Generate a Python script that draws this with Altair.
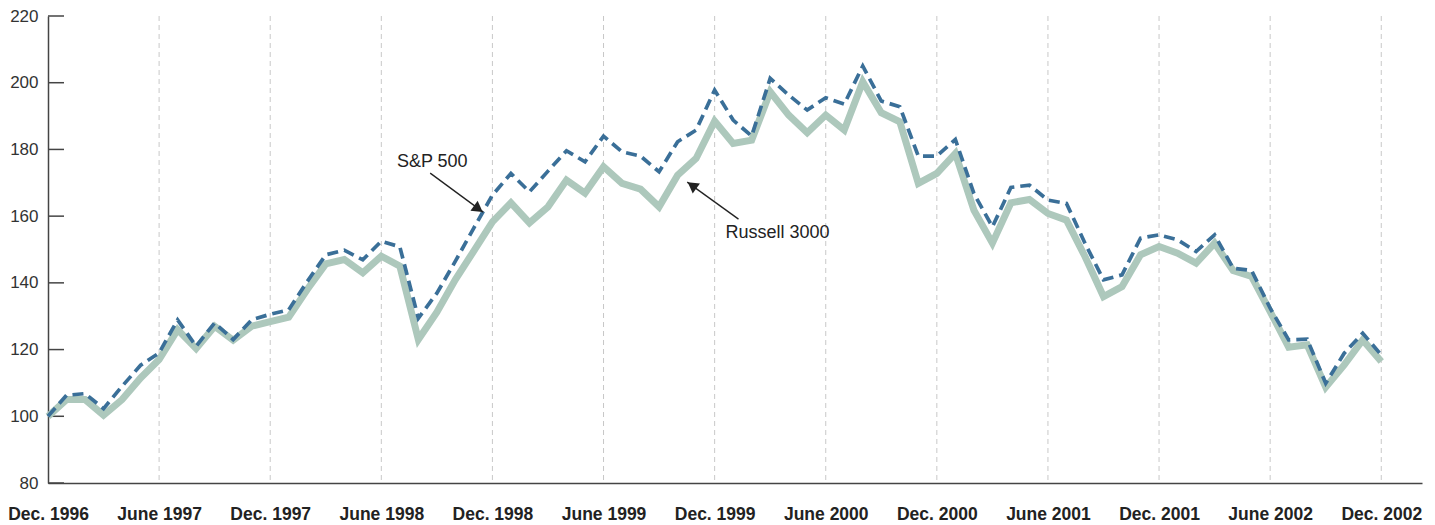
import altair as alt
import pandas as pd

# ---- data ----
months = list(range(73))
russell_3000 = [100, 105, 105, 100.3, 105, 111.5, 117, 126, 120.3, 127, 122.8, 127, 128.4,
                129.7, 138, 145.7, 147, 143, 148, 145, 123, 131.2, 141, 149.6, 158.3,
                164, 158, 162.8, 170.8, 166.9, 174.8, 169.8, 168.1, 162.8, 172.3, 177.3, 188.5,
                181.8, 182.8, 197.3, 190.3, 185, 190.3, 185.8, 200.3, 191, 188.3, 169.8, 172.8,
                178.8, 161.8, 151.9, 164, 165, 160.8, 158.8, 147.9, 135.9, 138.9, 148.4, 150.9,
                148.9, 145.9, 151.9, 143.7, 141.9, 131.4, 120.7, 121.4, 108.7, 115.4, 122.9, 116.4]
sp_500 = [100, 106.3, 106.8, 102.3, 109, 115.3, 119, 128.9, 121, 128, 123, 128.9, 130.6,
          131.9, 140.4, 148.4, 149.8, 146.9, 152.5, 150.8, 129.4, 136.9, 146.5, 156.5, 166.3,
          172.8, 167.3, 173.5, 179.6, 176.3, 184, 179.3, 178, 173.3, 182.3, 185.8, 197.8,
          188.8, 184, 201.3, 196.3, 191.8, 195.5, 193.6, 205, 194.5, 192.8, 178, 178,
          183, 166.8, 156.8, 168.6, 169.3, 164.8, 163.8, 151.9, 140.9, 142.4, 153.4, 154.4,
          152.9, 149.4, 154.4, 144.4, 143.7, 132.4, 122.9, 123.1, 109.9, 118.9, 124.9, 118.4]

tick_months = [0, 6, 12, 18, 24, 30, 36, 42, 48, 54, 60, 66, 72]
tick_labels = ["Dec. 1996", "June 1997", "Dec. 1997", "June 1998", "Dec. 1998", "June 1999",
               "Dec. 1999", "June 2000", "Dec. 2000", "June 2001", "Dec. 2001", "June 2002",
               "Dec. 2002"]
grid_months = tick_months[1:]
y_ticks = [80, 100, 120, 140, 160, 180, 200, 220]

# annotations
ann_labels = ["S&P 500", "Russell 3000"]
ann_text_x = [20.75, 39.4]
ann_text_y = [176.2, 155.0]
arrow_x0 = [20.64, 37.29]
arrow_y0 = [172.9, 159.1]
arrow_x1 = [23.50, 34.52]
arrow_y1 = [161.2, 170.2]
head_x = [23.24, 34.78]
head_y = [162.2, 169.2]
head_angle = [36, 216]

W, H = 1374, 467
FONT = "Liberation Sans, Arial, sans-serif"

df_r = pd.DataFrame({"month": months, "value": russell_3000})
df_s = pd.DataFrame({"month": months, "value": sp_500})
df_grid = pd.DataFrame({"month": grid_months})
df_yt = pd.DataFrame({"value": y_ticks})
df_ann = pd.DataFrame({"label": ann_labels, "tx": ann_text_x, "ty": ann_text_y})
df_arrow = pd.DataFrame({"x0": arrow_x0, "y0": arrow_y0, "x1": arrow_x1, "y1": arrow_y1,
                         "hx": head_x, "hy": head_y, "angle": head_angle})

xscale = alt.Scale(domain=[0, 74.2], nice=False, zero=False)
yscale = alt.Scale(domain=[80, 220], nice=False, zero=False)

label_expr = "[" + ",".join("'" + l + "'" for l in tick_labels) + "][round(datum.value / 6)]"

x_axis = alt.Axis(values=tick_months, labelExpr=label_expr, title=None, grid=False, ticks=False,
                  domainColor="#444444", domainWidth=1.5, labelFont=FONT, labelFontSize=17.5,
                  labelFontWeight="bold", labelColor="#222222", labelPadding=22,
                  labelFlush=False, labelOverlap=False)
y_axis = alt.Axis(values=y_ticks, title=None, grid=False, ticks=False, domainColor="#444444",
                  domainWidth=1.5, labelFont=FONT, labelFontSize=17, labelColor="#333333",
                  labelPadding=10)

grid = alt.Chart(df_grid).mark_rule(color="#c8c8c8", strokeDash=[5, 4], strokeWidth=1).encode(
    x=alt.X("month:Q", scale=xscale, axis=x_axis), y=alt.value(0), y2=alt.value(H))

yt = alt.Chart(df_yt).mark_rule(color="#444444", strokeWidth=1.5).encode(
    y=alt.Y("value:Q", scale=yscale, axis=y_axis), x=alt.value(0), x2=alt.value(16))

line_r = alt.Chart(df_r).mark_line(color="#adc8bc", strokeWidth=7).encode(
    x=alt.X("month:Q", scale=xscale), y=alt.Y("value:Q", scale=yscale))

line_s = alt.Chart(df_s).mark_line(color="#3a6f98", strokeWidth=3.7, strokeDash=[11, 6]).encode(
    x=alt.X("month:Q", scale=xscale), y=alt.Y("value:Q", scale=yscale))

arrows = alt.Chart(df_arrow).mark_rule(color="#222222", strokeWidth=1.3).encode(
    x=alt.X("x0:Q", scale=xscale), y=alt.Y("y0:Q", scale=yscale), x2="x1:Q", y2="y1:Q")

heads = alt.Chart(df_arrow).mark_point(shape="triangle-right", filled=True, color="#222222",
                                        size=150, opacity=1).encode(
    x=alt.X("hx:Q", scale=xscale), y=alt.Y("hy:Q", scale=yscale), angle=alt.Angle("angle:Q", scale=None))

texts = alt.Chart(df_ann).mark_text(font=FONT, fontSize=18, color="#222222", align="center",
                                     baseline="middle").encode(
    x=alt.X("tx:Q", scale=xscale), y=alt.Y("ty:Q", scale=yscale), text="label:N")

chart = alt.layer(grid, yt, line_r, line_s, arrows, heads, texts).properties(
    width=W, height=H,
    autosize=alt.AutoSizeParams(type="none"),
    padding={"left": 40, "top": 8, "right": 4, "bottom": 40},
    background="white",
).configure_view(stroke=None)

chart.save("out.html", embed_options={"renderer": "svg", "actions": False})
